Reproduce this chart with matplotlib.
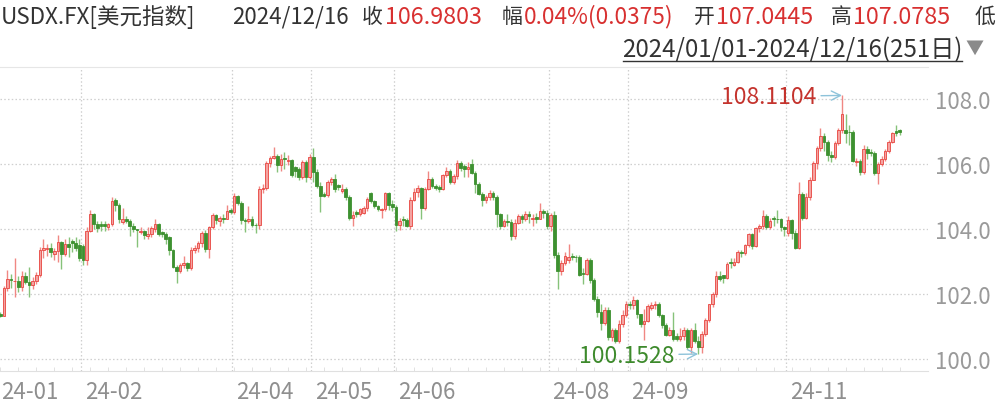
import numpy as np
import pandas as pd
import matplotlib
matplotlib.use('Agg')
import matplotlib.pyplot as plt
from matplotlib.lines import Line2D

plt.rcParams['font.family'] = ['Noto Sans CJK SC', 'DejaVu Sans']

# trading days 2024/01/01 - 2024/12/16 (251)
dates = pd.bdate_range('2024-01-01', '2024-12-16')

opens = [
    101.38, 101.33, 102.20, 102.46, 102.39, 102.41, 102.22, 102.56, 102.37, 102.28,
    102.40, 102.57, 103.36, 103.40, 103.41, 103.24, 103.32, 103.61, 103.24, 103.55,
    103.62, 103.56, 103.50, 103.48, 103.05, 103.95, 104.47, 104.14, 104.14, 104.14,
    104.06, 104.14, 104.90, 104.74, 104.22, 104.30, 104.25, 104.08, 103.99, 103.90,
    103.94, 103.78, 103.85, 104.00, 104.16, 103.90, 103.86, 103.75, 103.35, 102.83,
    102.71, 102.88, 102.94, 102.79, 103.36, 103.43, 103.58, 103.89, 103.40, 104.05,
    104.43, 104.25, 104.35, 104.32, 104.60, 104.53, 105.02, 104.81, 104.27, 104.24,
    104.30, 104.13, 104.11, 105.23, 105.27, 106.04, 106.20, 106.26, 105.97, 106.17,
    106.08, 106.11, 105.90, 105.85, 105.60, 106.06, 105.59, 106.22, 105.74, 105.31,
    105.08, 105.04, 105.45, 105.55, 105.36, 105.16, 105.24, 104.98, 104.34, 104.52,
    104.46, 104.50, 104.66, 105.10, 104.85, 104.72, 104.58, 104.62, 105.11, 104.78,
    104.67, 104.12, 104.32, 104.27, 104.10, 104.89, 105.15, 105.25, 104.66, 105.23,
    105.55, 105.32, 105.30, 105.24, 105.66, 105.80, 105.46, 105.62, 106.04, 105.95,
    105.84, 106.00, 105.73, 105.39, 105.09, 104.88, 104.99, 105.10, 104.99, 104.45,
    104.10, 104.26, 104.23, 103.77, 104.20, 104.40, 104.30, 104.47, 104.30, 104.38,
    104.32, 104.56, 104.48, 104.10, 104.42, 103.21, 102.71, 102.94, 103.05, 103.18,
    103.15, 103.13, 102.65, 102.63, 103.04, 102.43, 101.86, 101.44, 101.10, 101.50,
    100.68, 100.88, 100.55, 101.09, 101.35, 101.70, 101.65, 101.82, 101.37, 101.08,
    101.18, 101.58, 101.66, 101.70, 101.36, 101.05, 100.75, 100.89, 100.72, 100.62,
    100.72, 100.88, 100.36, 100.90, 100.56, 100.38, 100.78, 101.20, 101.68, 101.99,
    102.54, 102.58, 102.50, 102.99, 102.90, 103.00, 103.30, 103.25, 103.52, 103.84,
    103.49, 104.02, 104.08, 104.40, 104.05, 104.35, 104.32, 104.30, 104.06, 103.88,
    104.28, 103.88, 103.43, 105.09, 104.35, 104.98, 105.52, 106.02, 106.48, 106.85,
    106.69, 106.27, 106.22, 106.65, 107.05, 107.05, 107.00, 106.97, 106.05, 106.10,
    105.74, 106.45, 106.36, 106.34, 105.72, 105.99, 106.16, 106.41, 106.69, 107.03,
    107.0445,
]
highs = [
    101.45, 102.25, 102.73, 102.63, 103.11, 102.55, 102.70, 102.68, 102.84, 102.52,
    102.68, 103.46, 103.69, 103.55, 103.56, 103.42, 103.82, 103.62, 103.69, 103.76,
    103.68, 103.75, 103.70, 103.55, 104.06, 104.60, 104.50, 104.25, 104.25, 104.25,
    104.20, 104.97, 104.95, 104.80, 104.65, 104.40, 104.30, 104.20, 104.00, 104.05,
    103.98, 104.05, 104.10, 104.30, 104.20, 103.95, 103.90, 103.80, 103.40, 102.90,
    102.95, 103.17, 102.98, 103.45, 103.50, 103.62, 103.94, 103.98, 104.10, 104.49,
    104.45, 104.40, 104.45, 104.73, 104.65, 105.10, 105.06, 104.85, 104.35, 104.70,
    104.40, 104.20, 105.32, 105.40, 106.10, 106.24, 106.52, 106.30, 106.30, 106.38,
    106.27, 106.15, 105.95, 105.90, 106.12, 106.12, 106.30, 106.49, 105.85, 105.45,
    105.15, 105.50, 105.60, 105.70, 105.40, 105.40, 105.30, 105.05, 104.55, 104.60,
    104.66, 104.72, 105.00, 105.15, 104.90, 104.75, 104.65, 105.15, 105.15, 104.90,
    104.75, 104.35, 104.40, 104.35, 105.00, 105.25, 105.35, 105.30, 105.30, 105.80,
    105.60, 105.40, 105.35, 105.70, 105.90, 105.85, 105.70, 106.13, 106.10, 106.00,
    106.05, 106.15, 105.80, 105.45, 105.15, 105.05, 105.20, 105.18, 105.05, 104.50,
    104.30, 104.45, 104.30, 104.30, 104.45, 104.45, 104.55, 104.55, 104.45, 104.50,
    104.80, 104.62, 104.60, 104.50, 104.55, 103.30, 103.05, 103.30, 103.55, 103.25,
    103.20, 103.20, 102.80, 103.10, 103.10, 102.50, 101.95, 101.70, 101.60, 101.60,
    100.95, 100.95, 101.20, 101.50, 101.80, 101.80, 101.95, 101.85, 101.40, 101.55,
    101.70, 101.75, 101.78, 101.75, 101.40, 101.10, 101.00, 101.45, 100.80, 100.95,
    101.00, 100.95, 100.95, 101.10, 100.70, 100.85, 101.25, 101.70, 102.05, 102.70,
    102.70, 102.60, 103.00, 103.10, 103.10, 103.35, 103.35, 103.55, 103.87, 103.88,
    104.05, 104.15, 104.57, 104.45, 104.35, 104.40, 104.60, 104.35, 104.10, 104.40,
    104.30, 103.98, 105.44, 105.15, 105.10, 105.60, 106.10, 106.55, 107.10, 106.95,
    106.75, 106.40, 106.70, 107.10, 108.1104, 107.55, 107.20, 107.05, 106.20, 106.15,
    106.60, 106.55, 106.45, 106.40, 106.05, 106.25, 106.45, 106.75, 107.00, 107.20,
    107.0785,
]
lows = [
    101.30, 101.33, 102.10, 102.20, 101.92, 102.05, 102.10, 102.30, 101.90, 102.15,
    102.30, 102.52, 103.10, 103.16, 103.14, 103.04, 102.99, 102.77, 103.18, 103.15,
    103.30, 103.32, 103.03, 102.90, 102.88, 103.90, 104.00, 103.90, 103.95, 103.95,
    103.98, 104.10, 104.55, 104.20, 104.15, 104.18, 103.80, 103.90, 103.45, 103.85,
    103.70, 103.68, 103.75, 103.90, 103.80, 103.75, 103.55, 103.20, 102.80, 102.35,
    102.65, 102.80, 102.70, 102.75, 103.25, 103.30, 103.45, 103.30, 103.12, 104.00,
    104.15, 104.10, 104.20, 104.30, 104.45, 104.45, 104.75, 104.15, 103.90, 104.20,
    104.05, 103.88, 104.00, 105.10, 105.20, 105.90, 106.15, 105.75, 105.80, 105.85,
    105.98, 105.60, 105.60, 105.50, 105.55, 105.45, 105.55, 105.45, 105.25, 104.52,
    104.98, 104.98, 105.35, 105.15, 105.20, 105.12, 104.90, 104.28, 104.08, 104.38,
    104.40, 104.45, 104.55, 104.80, 104.65, 104.55, 104.35, 104.55, 104.60, 104.55,
    103.95, 103.98, 104.10, 104.05, 104.00, 104.85, 105.00, 104.30, 104.60, 105.20,
    105.25, 105.20, 105.15, 105.20, 105.60, 105.40, 105.40, 105.55, 105.80, 105.60,
    105.60, 105.70, 105.10, 105.05, 104.70, 104.80, 104.90, 104.90, 104.05, 104.00,
    104.05, 104.10, 103.65, 103.70, 104.15, 104.20, 104.25, 104.20, 104.10, 104.20,
    104.30, 104.35, 104.00, 103.95, 103.10, 102.16, 102.60, 102.90, 102.95, 103.05,
    103.00, 102.55, 102.30, 102.60, 102.35, 101.80, 101.30, 100.90, 101.05, 100.60,
    100.55, 100.50, 100.50, 101.00, 101.30, 101.55, 101.55, 101.25, 101.00, 100.60,
    101.15, 101.50, 101.55, 101.30, 100.95, 100.70, 100.70, 100.55, 100.55, 100.55,
    100.60, 100.30, 100.20, 100.50, 100.1528, 100.20, 100.70, 101.15, 101.60, 101.90,
    102.40, 102.35, 102.45, 102.80, 102.85, 102.95, 103.15, 103.20, 103.45, 103.40,
    103.45, 103.90, 104.00, 104.00, 104.00, 104.10, 104.20, 103.95, 103.80, 103.80,
    103.70, 103.37, 103.40, 104.28, 104.30, 104.90, 105.50, 105.85, 106.40, 106.40,
    106.10, 106.05, 106.15, 106.60, 106.95, 106.65, 106.60, 106.05, 105.95, 105.65,
    105.70, 106.15, 106.25, 105.65, 105.40, 105.95, 106.10, 106.35, 106.65, 106.85,
    106.90,
]
closes = [
    101.33, 102.20, 102.46, 102.42, 102.41, 102.22, 102.56, 102.37, 102.28, 102.40,
    102.57, 103.36, 103.43, 103.41, 103.29, 103.32, 103.61, 103.24, 103.55, 103.44,
    103.56, 103.41, 103.10, 103.05, 103.95, 104.47, 104.14, 104.04, 104.08, 104.09,
    104.14, 104.86, 104.74, 104.30, 104.30, 104.25, 104.08, 103.99, 103.96, 103.94,
    103.83, 103.85, 104.02, 104.16, 103.85, 103.86, 103.70, 103.35, 102.83, 102.71,
    102.88, 102.94, 102.79, 103.36, 103.43, 103.58, 103.89, 103.40, 104.05, 104.43,
    104.28, 104.33, 104.32, 104.55, 104.53, 105.02, 104.81, 104.27, 104.24, 104.30,
    104.13, 104.11, 105.23, 105.27, 106.04, 106.20, 106.26, 105.97, 106.15, 106.15,
    106.11, 105.65, 105.80, 105.60, 106.06, 105.59, 106.22, 105.74, 105.31, 105.03,
    105.02, 105.45, 105.55, 105.22, 105.28, 105.24, 104.98, 104.34, 104.44, 104.46,
    104.61, 104.66, 104.93, 104.85, 104.72, 104.61, 104.62, 105.11, 104.74, 104.67,
    104.12, 104.26, 104.27, 104.10, 104.89, 105.15, 105.25, 104.66, 105.23, 105.55,
    105.32, 105.27, 105.24, 105.66, 105.80, 105.46, 105.62, 106.04, 105.88, 105.84,
    105.90, 105.73, 105.39, 105.09, 104.88, 104.99, 105.10, 104.99, 104.45, 104.10,
    104.24, 104.23, 103.77, 104.20, 104.40, 104.30, 104.47, 104.39, 104.35, 104.32,
    104.56, 104.48, 104.10, 104.42, 103.21, 102.71, 102.94, 103.17, 103.15, 103.14,
    103.13, 102.60, 102.63, 103.04, 102.43, 101.86, 101.44, 101.10, 101.50, 100.68,
    100.88, 100.55, 101.09, 101.35, 101.70, 101.65, 101.82, 101.37, 101.08, 101.18,
    101.62, 101.66, 101.70, 101.36, 101.05, 100.75, 100.89, 100.62, 100.62, 100.72,
    100.88, 100.36, 100.90, 100.56, 100.38, 100.78, 101.20, 101.68, 101.99, 102.54,
    102.47, 102.50, 102.93, 102.95, 103.00, 103.29, 103.25, 103.52, 103.84, 103.49,
    104.02, 104.08, 104.40, 104.05, 104.26, 104.32, 104.30, 104.06, 103.99, 104.28,
    103.88, 103.43, 105.09, 104.35, 104.98, 105.52, 106.02, 106.48, 106.85, 106.69,
    106.27, 106.22, 106.65, 107.05, 107.55, 106.95, 106.97, 106.10, 106.10, 105.74,
    106.45, 106.34, 106.34, 105.72, 105.99, 106.16, 106.41, 106.69, 106.95, 106.9428,
    106.9803,
]

y_ticks = [100.0, 102.0, 104.0, 106.0, 108.0]
grid_months = ['2024-02', '2024-04', '2024-05', '2024-06', '2024-08', '2024-09', '2024-11']
label_months = ['2024-01'] + grid_months

O = np.array(opens); H = np.array(highs); L = np.array(lows); C = np.array(closes)
x = np.arange(len(dates))
up = C >= O

fig = plt.figure(figsize=(9.99, 4.06), dpi=100)
ax = fig.add_axes([0, 34 / 406, 928 / 999, 304 / 406])

up_face, up_edge = '#f4a3a1', '#e8453f'
dn_face, dn_wick = '#3d9130', '#86c27a'

ax.vlines(x[up], L[up], H[up], color='#f08783', lw=1.0, zorder=3)
ax.vlines(x[~up], L[~up], H[~up], color=dn_wick, lw=1.0, zorder=3)
ax.bar(x[up], np.maximum(C[up] - O[up], 0.02), bottom=O[up], width=0.72,
       color=up_face, edgecolor=up_edge, lw=0.6, zorder=4)
ax.bar(x[~up], np.maximum(O[~up] - C[~up], 0.02), bottom=C[~up], width=0.76,
       color=dn_face, edgecolor=dn_face, lw=0.6, zorder=4)

ax.set_xlim(-0.08, 257.9)
ax.set_ylim(99.631, 108.985)

# grid
for v in y_ticks:
    ax.axhline(v, color='#cfcfcf', lw=0.9, ls=(0, (1.2, 1.8)), zorder=1)
month_idx = {m: int(np.argmax(dates.strftime('%Y-%m') == m)) for m in label_months}
for m in grid_months:
    ax.axvline(month_idx[m] - 0.5, color='#cfcfcf', lw=0.9, ls=(0, (1.2, 1.8)), zorder=1)

for s in ['left', 'right']:
    ax.spines[s].set_visible(False)
ax.spines['top'].set_color('#e6e6e6')
ax.spines['bottom'].set_color('#e0e0e0')

ax.set_xticks([])
ax.set_xticks(np.arange(0, len(dates), 5), minor=True)
ax.tick_params(axis='x', which='minor', direction='in', length=3, color='#dddddd')
ax.yaxis.tick_right()
ax.set_yticks(y_ticks)
ax.set_yticklabels([f'{v:.1f}' for v in y_ticks])
ax.tick_params(axis='y', length=0, pad=5, labelsize=16, labelcolor='#9a9a9a')

for m in label_months:
    i = month_idx[m]
    ax.text(i - 0.5 + (0.6 if i == 0 else 1.0), -0.068, m[2:], transform=ax.get_xaxis_transform(),
            ha='left', va='center', fontsize=16, color='#8f8f8f')

# high / low markers
imax = int(np.argmax(H)); imin = int(np.argmin(L))
arrow = dict(arrowstyle='->', color='#8ec3da', lw=1.0, shrinkA=1, shrinkB=0)
ax.annotate(f'{H[imax]:.4f}', xy=(imax, H[imax]), xytext=(imax - 7, H[imax] - 0.03),
            ha='right', va='center', fontsize=16.5, color='#c4332d', arrowprops=arrow, zorder=6)
ax.annotate(f'{L[imin]:.4f}', xy=(imin, L[imin]), xytext=(imin - 6.5, L[imin] - 0.03),
            ha='right', va='center', fontsize=16.5, color='#3d8a2c', arrowprops=arrow, zorder=6)

# header
def ftext(px, py, s, c, size=15, **kw):
    fig.text(px / 999, 1 - py / 406, s, color=c, fontsize=size, va='center', **kw)

dark, red = '#333333', '#d83030'
ftext(1, 17, 'USDX.FX[美元指数]', dark, size=16.2)
ftext(232, 17, dates[-1].strftime('%Y/%m/%d'), dark, size=16)
ftext(362, 17, '收', dark)
ftext(385, 17, f'{C[-1]:.4f}', red, size=16.8)
ftext(502, 17, '幅', dark)
chg = C[-1] - C[-2]
ftext(524, 17, f'{chg / C[-2] * 100:.2f}%({chg:.4f})', red, size=16.3)
ftext(694, 17, '开', dark)
ftext(716, 17, f'{O[-1]:.4f}', red, size=16.8)
ftext(831, 17, '高', dark)
ftext(853, 17, f'{H[-1]:.4f}', red, size=16.8)
ftext(975, 17, '低', dark)
ftext(962, 50, f"{dates[0].strftime('%Y/%m/%d')}-{dates[-1].strftime('%Y/%m/%d')}({len(dates)}日)",
      dark, size=17.3, ha='right')
fig.add_artist(Line2D([623 / 999, 962 / 999], [1 - 62 / 406] * 2, color=dark, lw=1.0))
ftext(965, 49, '▼', '#8a8a8a', size=13)

fig.savefig('out.png', dpi=100)
